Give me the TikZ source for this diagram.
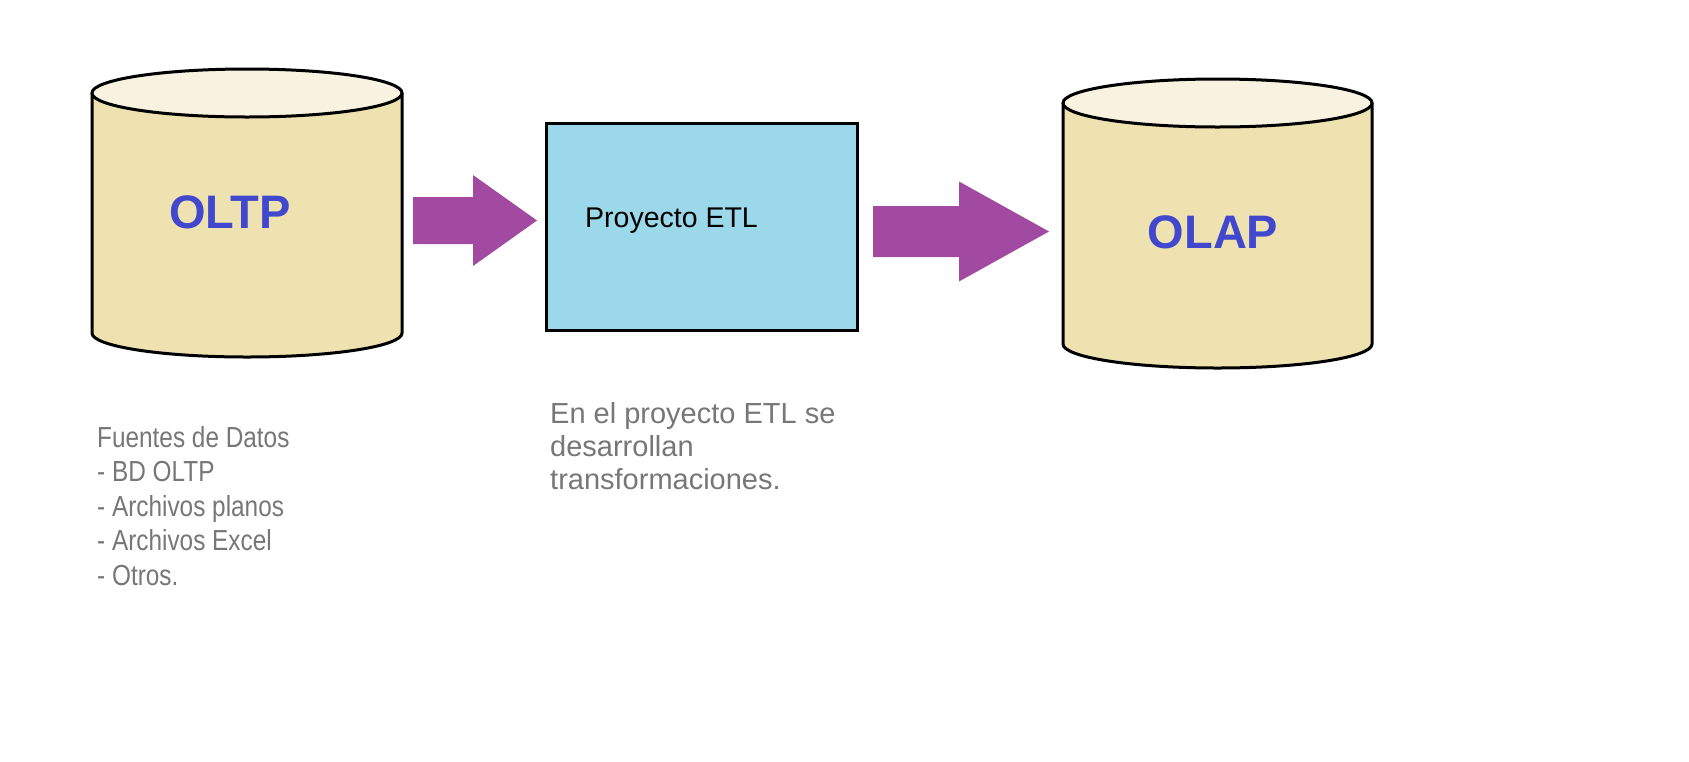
\documentclass[tikz,border=0pt]{standalone}
\usepackage{fontspec}
\setmainfont{Liberation Sans}
\newfontfamily\narrowfont[FakeStretch=0.84]{Liberation Sans}
\usepackage{tikz}
\usetikzlibrary{
    calc,
    positioning,
}
\definecolor{dbbody}{RGB}{238,227,176}
\definecolor{dbtop}{RGB}{248,243,224}
\definecolor{dbblue}{RGB}{65,72,205}
\definecolor{etlblue}{RGB}{155,217,234}
\definecolor{arrowpurple}{RGB}{162,73,161}
\definecolor{notegrey}{RGB}{119,119,119}
\tikzstyle{cylbody}=[fill=dbbody,draw=black,line width=3pt]
\tikzstyle{cyltop}=[fill=dbtop,draw=black,line width=3pt]
\tikzstyle{dblabel}=[font=\bfseries\fontsize{47}{56}\selectfont,text=dbblue,inner sep=0pt]
\tikzstyle{etlbox}=[draw,rectangle,fill=etlblue,line width=3pt,minimum width=311pt,minimum height=207pt,inner sep=0pt]
\tikzstyle{note}=[text=notegrey,align=left,inner sep=0pt,anchor=base west]
\tikzstyle{bigarrow}=[fill=arrowpurple]
% cylinder: left, right, top y, bottom y
\newcommand{\dbcyl}[4]{%
    \draw[cylbody] (#1,#3) -- (#1,#4) arc[start angle=180,end angle=0,x radius={(#2-#1)/2},y radius=24] -- (#2,#3);
    \draw[cyltop] ({(#1+#2)/2},#3) ellipse[x radius={(#2-#1)/2},y radius=24];
}
% block arrow: start, tip, shaft half width, head half width, head length
\newcommand{\blockarrow}[5]{%
    \fill[bigarrow] ($(#1)+(0,-#3)$) -- ($(#2)+(-#5,-#3)$) -- ($(#2)+(-#5,-#4)$) -- (#2)
    -- ($(#2)+(-#5,#4)$) -- ($(#2)+(-#5,#3)$) -- ($(#1)+(0,#3)$) -- cycle;
}
\begin{document}
\begin{tikzpicture}[x=1pt,y=-1pt]
    \fill[white] (0,0) rectangle (1689,761);
    \useasboundingbox (0,0) rectangle (1689,761);

    % sources
    \dbcyl{92}{402}{93}{333}
    \node[dblabel] (oltp) at (230,212) {OLTP};

    % etl
    \node[etlbox] (etl) at (702,227) {};
    \node[anchor=base west,inner sep=0pt,font=\fontsize{28.5}{34}\selectfont] (etllabel) at (585,227) {Proyecto ETL};

    % warehouse
    \dbcyl{1063}{1372}{103}{344}
    \node[dblabel] (olap) at (1213,232) {OLAP};

    % arrows
    \coordinate (a1s) at (413,220.5);
    \coordinate (a1t) at (537,220.5);
    \coordinate (a2s) at (873,231.5);
    \coordinate (a2t) at (1049,231.5);
    \blockarrow{a1s}{a1t}{23.5}{45.5}{64}
    \blockarrow{a2s}{a2t}{25.5}{50}{90}

    % notes (anchored at the last line)
    \node[note,font=\narrowfont\fontsize{29}{34.5}\selectfont] (sources) at (97,585)
        {Fuentes de Datos\\- BD OLTP\\- Archivos planos\\- Archivos Excel\\- Otros.};
    \node[note,font=\fontsize{29}{33}\selectfont] (etlnote) at (550,489)
        {En el proyecto ETL se\\desarrollan\\transformaciones.};
\end{tikzpicture}
\end{document}
